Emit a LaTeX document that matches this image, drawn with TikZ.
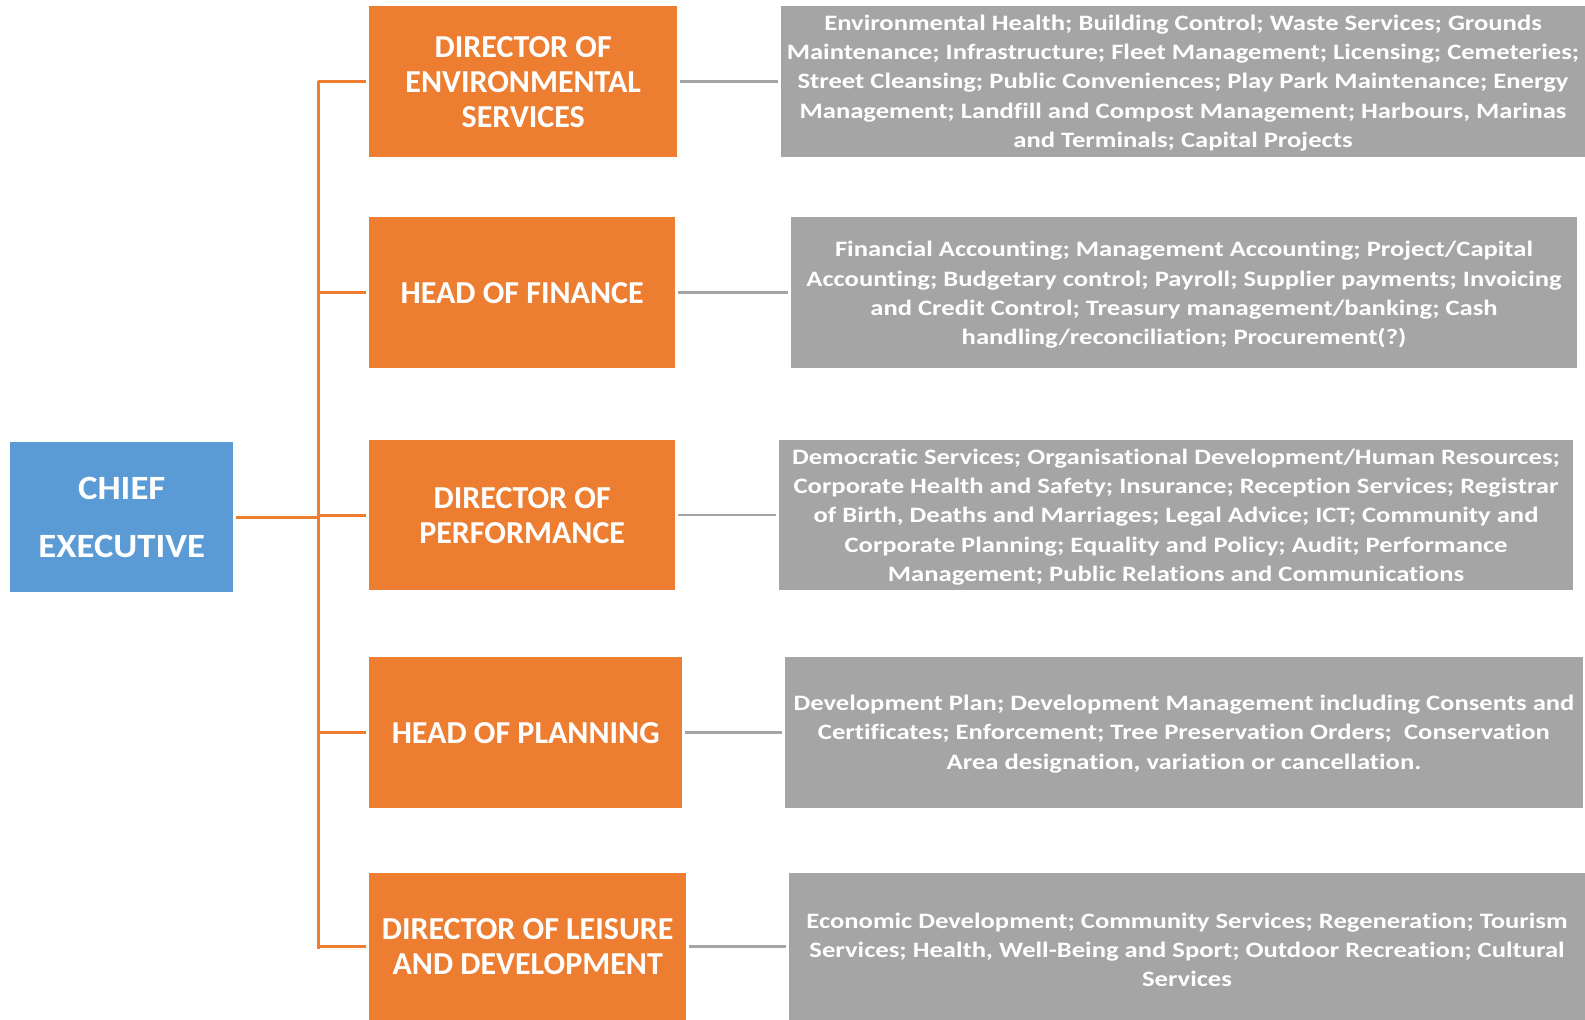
\documentclass[tikz,border=0pt]{standalone}
\usepackage{fontspec}
\setmainfont{Carlito}[Ligatures=NoCommon]
\newfontfamily\dutyfont{Carlito}[FakeStretch=1.21, Ligatures=NoCommon]
\newfontfamily\chieffont{Carlito}[FakeStretch=1.08, Ligatures=NoCommon]
\definecolor{cOrange}{HTML}{ED7D31}
\definecolor{cBlue}{HTML}{5B9BD5}
\definecolor{cGray}{HTML}{A5A5A5}
\begin{document}
\begin{tikzpicture}[x=1pt,y=-1pt,
  box/.style={anchor=north west, inner sep=0pt, align=center, text=white},
  chiefbox/.style={box, fill=cBlue, font=\chieffont\bfseries\fontsize{34}{58}\selectfont},
  headbox/.style={box, fill=cOrange, font=\bfseries\fontsize{32}{35}\selectfont},
  dutybox/.style={box, fill=cGray},
  dutytext/.style={anchor=center, inner sep=0pt, align=center, text=white, font=\dutyfont\bfseries\fontsize{22}{29.3}\selectfont},
  oline/.style={draw=cOrange, line width=3pt},
  gline/.style={draw=cGray, line width=2.5pt}]
\useasboundingbox (0,0) rectangle (1585,1020);
\fill[white] (0,0) rectangle (1585,1020);

\node[chiefbox, minimum width=223pt, minimum height=150pt] (ce) at (10,442) {CHIEF\\EXECUTIVE};

\node[headbox, minimum width=308pt, minimum height=151pt] (h1) at (369,6) {DIRECTOR OF\\ENVIRONMENTAL\\SERVICES};
\node[headbox, minimum width=306pt, minimum height=151pt] (h2) at (369,217) {HEAD OF FINANCE};
\node[headbox, minimum width=306pt, minimum height=150pt] (h3) at (369,440) {DIRECTOR OF\\PERFORMANCE};
\node[headbox, minimum width=313pt, minimum height=151pt] (h4) at (369,657) {HEAD OF PLANNING};
\node[headbox, minimum width=317pt, minimum height=147pt] (h5) at (369,873) {DIRECTOR OF LEISURE\\AND DEVELOPMENT};

\node[dutybox, minimum width=804pt, minimum height=151pt] (d1) at (781,6) {};
\node[dutybox, minimum width=786pt, minimum height=151pt] (d2) at (791,217) {};
\node[dutybox, minimum width=794pt, minimum height=150pt] (d3) at (779,440) {};
\node[dutybox, minimum width=798pt, minimum height=151pt] (d4) at (785,657) {};
\node[dutybox, minimum width=796pt, minimum height=147pt] (d5) at (789,873) {};

\node[dutytext] (t1) at (1183,83) {Environmental Health; Building Control; Waste Services; Grounds\\Maintenance; Infrastructure; Fleet Management; Licensing; Cemeteries;\\Street Cleansing; Public Conveniences; Play Park Maintenance; Energy\\Management; Landfill and Compost Management; Harbours, Marinas\\and Terminals; Capital Projects};
\node[dutytext] (t2) at (1184,295) {Financial Accounting; Management Accounting; Project/Capital\\Accounting; Budgetary control; Payroll; Supplier payments; Invoicing\\and Credit Control; Treasury management/banking; Cash\\handling/reconciliation; Procurement(?)};
\node[dutytext] (t3) at (1176,517) {Democratic Services; Organisational Development/Human Resources;\\Corporate Health and Safety; Insurance; Reception Services; Registrar\\of Birth, Deaths and Marriages; Legal Advice; ICT; Community and\\Corporate Planning; Equality and Policy; Audit; Performance\\Management; Public Relations and Communications};
\node[dutytext] (t4) at (1184,734) {Development Plan; Development Management including Consents and\\Certificates; Enforcement; Tree Preservation Orders;\ \ Conservation\\Area designation, variation or cancellation.};
\node[dutytext] (t5) at (1187,950) {Economic Development; Community Services; Regeneration; Tourism\\Services; Health, Well-Being and Sport; Outdoor Recreation; Cultural\\Services};

\coordinate (top) at (318,81);
\coordinate (bot) at (318,949);
\draw[oline] (top) -- (bot);
\draw[oline, shorten <=3pt] (ce.east) -- (ce.east -| top);
\foreach \i in {1,...,5} {
  \draw[oline, shorten >=3pt] (h\i.west -| top) -- (h\i.west);
  \draw[gline, shorten <=3pt, shorten >=3pt] (h\i.east) -- (h\i.east -| d\i.west);
}
\end{tikzpicture}
\end{document}
